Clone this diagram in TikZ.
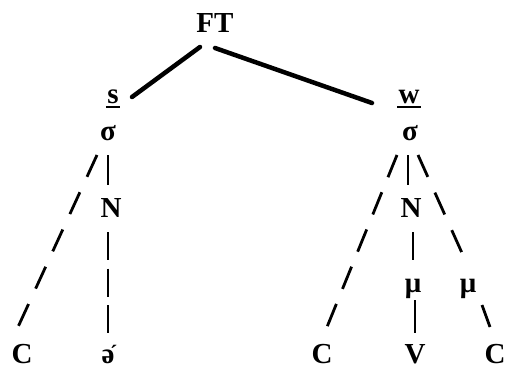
\documentclass[tikz,border=0pt]{standalone}
\usepackage{fontspec}
\setmainfont{Liberation Serif}
\usetikzlibrary{calc}
\newcommand\ulbox[1]{\vtop{\hbox{\kern1.5pt#1\kern1.5pt}\kern2.5pt\hrule height 2pt}}
\newcommand\schwaacute{ə\llap{\raisebox{3pt}{\fontsize{22}{22}\selectfont ´}\kern-3pt}}
\tikzset{
  lab/.style={inner sep=0pt, anchor=base, font=\fontsize{29}{34}\selectfont\bfseries},
  thick branch/.style={line width=4.5pt, line cap=round},
  slashes/.style={line width=2.8pt, dash pattern=on 24pt off #1},
  slashes/.default=16pt,
  bars/.style={line width=2.8pt, dash pattern=on 28pt off 8.5pt},
  bar/.style={line width=2.8pt}
}
\begin{document}
\begin{tikzpicture}[x=1pt,y=-1pt]
\useasboundingbox (0,0) rectangle (505,372);
\node[lab] (FT) at (215,32) {FT};
\node[lab] (s) at (113,103) {\ulbox{s}};
\node[lab] (w) at (409,103) {\ulbox{w}};
\node[lab] (sigL) at (108,140) {σ};
\node[lab] (sigR) at (410,140) {σ};
\node[lab] (NL) at (111,217) {N};
\node[lab] (NR) at (411,217) {N};
\node[lab] (muL) at (413,292) {μ};
\node[lab] (muR) at (468,292) {μ};
\node[lab] (CL) at (22,363) {C};
\node[lab] (schwa) at (108,363) {\schwaacute};
\node[lab] (CR1) at (322,363) {C};
\node[lab] (V) at (415,363) {V};
\node[lab] (CR2) at (495,363) {C};
% thick branches
\draw[thick branch] ($(FT.base)+(-15,15)$) -- ($(s.base)+(19,-6)$);
\draw[thick branch] ($(FT.base)+(0,16)$) -- ($(w.base)+(-37,0)$);
% left syllable
\draw[slashes=17pt] ($(sigL.base)+(-11,15)$) -- ($(CL.base)+(-4,-36)$);
\draw[bar] ($(sigL.base)+(0,15)$) -- ($(NL.base)+(-3,-32)$);
\draw[bars] ($(NL.base)+(-3,15)$) -- ($(schwa.base)+(0,-30)$);
% right syllable
\draw[slashes=16.2pt] ($(sigR.base)+(-13,15)$) -- ($(CR1.base)+(5,-36)$);
\draw[bar] ($(sigR.base)+(-2,15)$) -- ($(NR.base)+(-3,-32)$);
\draw[slashes=17.2pt] ($(sigR.base)+(8,15)$) -- ($(muR.base)+(-6,-39)$);
\draw[bar] ($(NR.base)+(2,15)$) -- ($(muL.base)+(0,-32)$);
\draw[bar] ($(muL.base)+(2,8)$) -- ($(V.base)+(0,-30)$);
\draw[bar] ($(muR.base)+(14,13)$) -- ($(CR2.base)+(-5,-36)$);
\end{tikzpicture}
\end{document}
